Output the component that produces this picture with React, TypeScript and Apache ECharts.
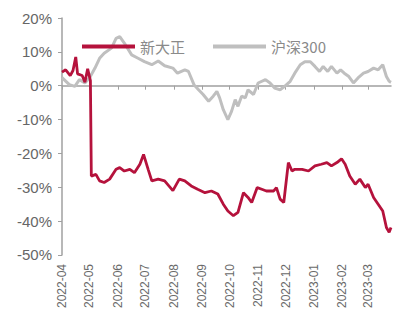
import React, { useEffect, useRef } from "react";
import * as echarts from "echarts";

const seriesNames = ["新大正", "沪深300"];

const startDate = "2022-04-01";
const endDate = "2023-03-26";

const yTicks = { min: -50, max: 20, interval: 10 };

const xinDaZheng: [string, number][] = [
  ["2022-04-01", 4.0], ["2022-04-05", 4.7], ["2022-04-10", 3.0], ["2022-04-13", 4.5],
  ["2022-04-16", 8.5], ["2022-04-18", 3.5], ["2022-04-23", 3.0], ["2022-04-26", 1.0],
  ["2022-04-29", 5.0], ["2022-05-02", 1.5], ["2022-05-03", -26.7], ["2022-05-08", -26.2],
  ["2022-05-12", -28.1], ["2022-05-17", -28.6], ["2022-05-23", -27.6], ["2022-05-30", -24.7],
  ["2022-06-03", -24.2], ["2022-06-08", -25.2], ["2022-06-14", -24.7], ["2022-06-19", -25.7],
  ["2022-06-25", -23.2], ["2022-06-29", -20.3], ["2022-07-04", -24.7], ["2022-07-08", -28.1],
  ["2022-07-15", -27.6], ["2022-07-22", -28.1], ["2022-07-31", -31.0], ["2022-08-07", -27.6],
  ["2022-08-13", -28.1], ["2022-08-20", -29.6], ["2022-08-27", -30.6], ["2022-09-04", -31.6],
  ["2022-09-11", -31.1], ["2022-09-18", -32.0], ["2022-09-24", -35.0], ["2022-09-29", -37.0],
  ["2022-10-05", -38.4], ["2022-10-10", -37.4], ["2022-10-16", -31.6], ["2022-10-21", -33.0],
  ["2022-10-25", -34.5], ["2022-10-31", -30.1], ["2022-11-05", -30.6], ["2022-11-10", -31.1],
  ["2022-11-18", -31.1], ["2022-11-21", -30.1], ["2022-11-25", -33.5], ["2022-11-29", -34.5],
  ["2022-12-04", -22.7], ["2022-12-08", -25.2], ["2022-12-11", -24.7], ["2022-12-19", -24.7],
  ["2022-12-26", -25.2], ["2023-01-02", -23.7], ["2023-01-09", -23.2], ["2023-01-15", -22.7],
  ["2023-01-20", -23.7], ["2023-01-26", -22.7], ["2023-01-31", -21.6], ["2023-02-04", -23.2],
  ["2023-02-09", -26.7], ["2023-02-15", -29.1], ["2023-02-20", -27.6], ["2023-02-26", -30.1],
  ["2023-03-01", -29.1], ["2023-03-07", -33.0], ["2023-03-12", -35.0], ["2023-03-17", -37.0],
  ["2023-03-21", -41.9], ["2023-03-24", -43.3], ["2023-03-26", -41.9],
];

const hs300: [string, number][] = [
  ["2022-04-01", 2.4], ["2022-04-09", 0.3], ["2022-04-15", -0.2], ["2022-04-20", 1.8],
  ["2022-04-26", 0.8], ["2022-05-01", 2.3], ["2022-05-07", 5.2], ["2022-05-12", 8.1],
  ["2022-05-17", 9.6], ["2022-05-25", 11.1], ["2022-05-30", 14.0], ["2022-06-03", 14.5],
  ["2022-06-08", 12.6], ["2022-06-16", 9.1], ["2022-06-23", 8.1], ["2022-06-30", 7.1],
  ["2022-07-08", 6.2], ["2022-07-15", 7.3], ["2022-07-22", 5.9], ["2022-07-31", 5.2],
  ["2022-08-05", 3.7], ["2022-08-13", 4.7], ["2022-08-17", 4.2], ["2022-08-23", 0.3],
  ["2022-08-28", -1.2], ["2022-09-02", -2.6], ["2022-09-08", -4.6], ["2022-09-13", -3.1],
  ["2022-09-17", -1.7], ["2022-09-20", -3.6], ["2022-09-24", -7.1], ["2022-09-29", -10.0],
  ["2022-10-03", -7.6], ["2022-10-07", -4.1], ["2022-10-10", -6.1], ["2022-10-14", -3.1],
  ["2022-10-18", -3.6], ["2022-10-21", -1.2], ["2022-10-27", -2.6], ["2022-11-01", 0.8],
  ["2022-11-09", 1.8], ["2022-11-14", 0.8], ["2022-11-19", -0.7], ["2022-11-25", -1.2],
  ["2022-11-30", -0.2], ["2022-12-06", 1.3], ["2022-12-11", 3.7], ["2022-12-17", 6.2],
  ["2022-12-22", 7.1], ["2022-12-28", 7.1], ["2023-01-02", 5.7], ["2023-01-07", 4.2],
  ["2023-01-11", 5.7], ["2023-01-16", 4.2], ["2023-01-20", 5.7], ["2023-01-26", 3.7],
  ["2023-01-30", 4.7], ["2023-02-03", 3.7], ["2023-02-08", 2.7], ["2023-02-13", 0.8],
  ["2023-02-18", 2.3], ["2023-02-24", 3.7], ["2023-03-01", 4.2], ["2023-03-07", 5.2],
  ["2023-03-12", 4.7], ["2023-03-17", 6.2], ["2023-03-21", 2.7], ["2023-03-24", 1.3],
  ["2023-03-26", 1.0],
];

function buildDays(start: string, end: string): string[] {
  const out: string[] = [];
  const d = new Date(start + "T00:00:00Z");
  const e = new Date(end + "T00:00:00Z");
  while (d.getTime() <= e.getTime()) {
    out.push(d.toISOString().slice(0, 10));
    d.setUTCDate(d.getUTCDate() + 1);
  }
  return out;
}

export default function App() {
  const ref = useRef<HTMLDivElement>(null);
  useEffect(() => {
    if (!ref.current) return;
    const chart = echarts.init(ref.current, undefined, { renderer: "svg" });
    const days = buildDays(startDate, endDate);
    const isMonthStart = (_i: number, v: string) => v.endsWith("-01");
    chart.setOption({
      animation: false,
      legend: {
        data: seriesNames,
        left: 77,
        top: 34,
        icon: "rect",
        itemWidth: 53,
        itemHeight: 4,
        itemGap: 28,
        textStyle: { color: "#8a8a8a", fontSize: 15, fontFamily: "Noto Sans CJK SC" },
      },
      grid: { left: 62, right: 3, top: 18, bottom: 55 },
      xAxis: [
        {
          type: "category",
          data: days,
          boundaryGap: false,
          axisLine: { onZero: true, lineStyle: { color: "#a0a0a0", width: 1.5 } },
          axisTick: { show: true, interval: isMonthStart, length: 4, lineStyle: { color: "#a0a0a0" } },
          axisLabel: { show: false },
          splitLine: { show: false },
        },
        {
          type: "category",
          data: days,
          boundaryGap: false,
          position: "bottom",
          axisLine: { show: false, onZero: false },
          axisTick: { show: false },
          axisLabel: {
            show: true,
            interval: isMonthStart,
            rotate: 90,
            margin: 9,
            color: "#6a6a6a",
            fontSize: 12,
            fontFamily: "Liberation Sans",
            formatter: (v: string) => v.slice(0, 7),
          },
          splitLine: { show: false },
        },
      ],
      yAxis: {
        type: "value",
        min: yTicks.min,
        max: yTicks.max,
        interval: yTicks.interval,
        axisLine: { show: true, lineStyle: { color: "#a0a0a0", width: 1.5 } },
        axisTick: { show: true, length: 4, lineStyle: { color: "#a0a0a0" } },
        axisLabel: {
          formatter: "{value}%",
          color: "#666",
          fontSize: 15,
          margin: 10,
          fontFamily: "Liberation Sans",
        },
        splitLine: { show: false },
      },
      series: [
        {
          name: seriesNames[0],
          type: "line",
          data: xinDaZheng,
          showSymbol: false,
          z: 3,
          lineStyle: { color: "#B5123C", width: 2.8 },
          itemStyle: { color: "#B5123C" },
        },
        {
          name: seriesNames[1],
          type: "line",
          data: hs300,
          showSymbol: false,
          z: 2,
          lineStyle: { color: "#BFBFBF", width: 3 },
          itemStyle: { color: "#BFBFBF" },
        },
      ],
    });
    return () => chart.dispose();
  }, []);
  return <div ref={ref} style={{ width: 394, height: 311, position: "absolute", left: 0, top: 0, background: "#fff" }} />;
}
